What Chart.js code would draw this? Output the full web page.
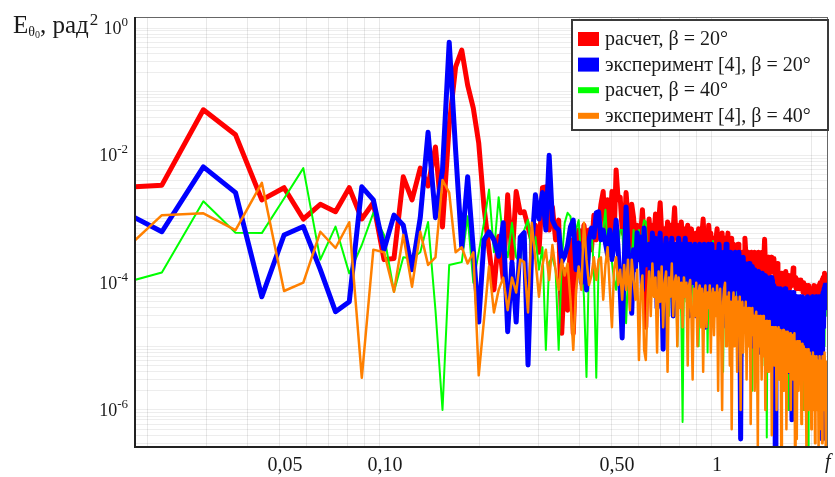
<!DOCTYPE html>
<html>
<head>
<meta charset="utf-8">
<script src="https://cdn.jsdelivr.net/npm/chart.js@4.4.0/dist/chart.umd.min.js"></script>
<style>
  html, body { margin: 0; padding: 0; background: #fff; }
  #wrap { width: 835px; height: 477px; }
</style>
</head>
<body>
<div id="wrap"><canvas id="spectrumChart" width="835" height="477"></canvas></div>
<script>
// spectrum bins: uniform step, first plotted bin is #2
var binWidth = 0.00735;
var firstBin = 2;

var seriesLabels = ['расчет, β = 20°', 'эксперимент [4], β = 20°', 'расчет, β = 40°', 'эксперимент [4], β = 40°'];

// RED - расчет, beta = 20
var red = [
  3.0e-3, 3.4e-3, 5.2e-2, 2.1e-2, 2.0e-3, 3.1e-3, 1.0e-3, 1.7e-3, 1.3e-3, 3.1e-3,
  1.0e-3, 1.8e-3, 2.3e-4, 2.4e-4, 4.6e-3, 2.0e-3, 6.3e-3, 3.3e-3, 1.35e-2, 7.5e-4,
  3.0e-2, 0.245, 0.45, 0.127, 0.055, 0.0155, 1.55e-3, 3.3e-4, 7.7e-5, 5.3e-4,
  1.1e-4, 2.4e-3, 2.3e-4, 2.7e-3, 1.25e-3, 1.3e-3, 7.5e-4, 4.7e-4, 8.0e-4, 3.0e-4,
  3.1e-3, 3.2e-3, 6.7e-4, 1.55e-3, 4.7e-4, 9.6e-4, 1.6e-5, 1.6e-4, 3.7e-5, 4.7e-4,
  1.6e-5, 2.7e-4, 6.7e-4, 2.3e-4, 8.0e-4, 3.9e-4, 6.7e-4, 3.3e-4, 1.15e-3, 4.7e-4,
  8.0e-4, 1.7e-3, 2.7e-3, 4.7e-4, 2.0e-3, 6.7e-4, 2.7e-3, 4.7e-4, 5.9e-3, 2.0e-3,
  2.2e-3, 6.7e-4, 5.6e-4, 2.6e-3, 1.05e-3, 3.3e-4, 1.7e-3, 1.05e-3, 3.9e-4, 8.0e-4,
  3.3e-4, 5.6e-4, 1.4e-3, 4.7e-4, 2.0e-5, 6.7e-4, 1.0e-3, 3.0e-4, 8.0e-4, 5.0e-4,
  1.2e-3, 2.0e-4, 9.0e-4, 1.8e-3, 6.0e-4, 3.0e-5, 7.0e-4, 4.0e-4, 9.0e-4, 6.0e-4,
  8.0e-4, 2.0e-4, 7.0e-4, 1.5e-3, 5.0e-4, 8.0e-4, 3.0e-4, 6.0e-4, 9.0e-4, 4.0e-4,
  7.0e-4, 1.0e-4, 6.0e-4, 8.0e-4, 3.0e-4, 5.0e-4, 7.0e-4, 4.0e-4, 5e-4, 2e-4,
  6e-4, 4e-4, 7e-4, 3e-4, 5e-4, 6e-4, 1.0e-3, 4e-4, 2e-4, 5e-4,
  3e-4, 8e-4, 5e-4, 6e-4, 1e-4, 4e-4, 5e-4, 3e-4, 5e-4, 7e-4,
  4e-4, 2e-4, 5e-4, 3e-4, 6e-4, 4e-5, 4e-4, 5e-4, 3e-4, 4e-4,
  6e-4, 2e-4, 4e-4, 3e-4, 5e-4, 2e-4, 4e-4, 3e-4, 3e-4, 2e-4,
  1e-4, 4e-4, 2.5e-4, 3e-4, 1.5e-4, 2e-4, 3e-4, 2e-4, 2.5e-4, 5e-4,
  3e-4, 1.5e-4, 2.5e-4, 3e-4, 2e-4, 1e-4, 2.5e-4, 3e-4, 2e-4, 2.5e-4,
  1.5e-4, 3e-4, 2e-4, 2.5e-4, 1e-4, 2e-4, 3e-4, 2e-4, 1.5e-4, 2.5e-4,
  2e-4, 3e-4, 1.5e-4, 2.5e-4, 4.8e-4, 2e-4, 2.5e-4, 1.5e-4, 2e-4, 2.5e-4,
  1e-4, 2e-4, 1.5e-4, 2.5e-4, 2e-4, 1.5e-4, 2e-4, 2.4e-4, 1.5e-4, 1.2e-4,
  1.4e-4, 8e-5, 2.0e-4, 1.2e-4, 1.0e-4, 1.3e-4, 9e-5, 1.2e-4, 1.4e-4, 1.0e-4,
  1.2e-4, 7e-5, 1.1e-4, 1.3e-4, 1.0e-4, 1.5e-4, 1.1e-4, 9e-5, 1.2e-4, 1.0e-4,
  1.3e-4, 8e-5, 1.1e-4, 1.2e-4, 9e-5, 1.1e-4, 1.3e-4, 1.7e-4, 1.1e-4, 9e-5,
  1.2e-4, 1.0e-4, 8e-5, 1.1e-4, 1.0e-4, 9e-5, 1.1e-4, 8e-5, 1.0e-4, 9e-5,
  1.1e-4, 8e-5, 1.0e-4, 9e-5, 7e-5, 1.0e-4, 8e-5, 9e-5, 8e-5, 7e-5,
  9e-5, 6e-5, 7e-5, 9e-5, 7e-5, 6e-5, 8e-5, 7e-5, 6e-5, 8e-5,
  7e-5, 6e-5, 8e-5, 7e-5, 9e-5, 6e-5, 7e-5, 8e-5, 6e-5, 7e-5,
  8e-5, 6e-5, 7e-5, 9e-5, 7e-5, 8e-5, 1.0e-4, 7e-5, 9e-5, 8e-5,
  1.1e-4, 9e-5, 1.2e-4, 8e-5, 1.0e-4, 1.4e-4, 1.0e-4, 1.2e-4, 1.3e-4
];

// BLUE - эксперимент, beta = 20
var blue = [
  1.9e-3, 6.3e-4, 6.6e-3, 2.6e-3, 6.0e-5, 5.6e-4, 7.6e-4, 1.6e-4, 3.5e-5, 5.0e-5,
  3.2e-3, 2.0e-3, 3.3e-4, 1.15e-3, 8.0e-4, 1.6e-4, 1.05e-3, 2.3e-2, 1.05e-3, 5.9e-3,
  0.60, 1.2e-2, 3.6e-4, 4.6e-3, 3.3e-4, 2.4e-5, 4.7e-4, 6.3e-4, 4.7e-4, 2.6e-4,
  8.7e-4, 1.7e-5, 2.1e-4, 2.4e-5, 5.2e-4, 6.1e-4, 5.1e-6, 3.6e-4, 2.4e-3, 1.0e-3,
  2.6e-3, 6.7e-4, 1.0e-2, 9.6e-4, 7.5e-4, 6.7e-4, 2.1e-4, 2.6e-4, 3.9e-4, 7.5e-4,
  9.6e-4, 1.6e-4, 4.2e-4, 1.0e-4, 3.3e-4, 7.7e-5, 4.7e-4, 7.2e-4, 5.2e-4, 1.25e-3,
  1.3e-3, 4.7e-4, 6.7e-4, 4.2e-4, 2.7e-4, 6.7e-4, 2.3e-4, 3.9e-4, 9.6e-4, 3.3e-4,
  7.7e-5, 1.35e-5, 1.9e-4, 1.55e-3, 3.9e-4, 1.1e-4, 3.3e-5, 3.3e-4, 1.6e-4, 6.1e-4,
  2.3e-4, 5.2e-4, 7.7e-5, 7.2e-4, 1.9e-4, 3.9e-4, 4e-4, 8e-5, 6e-4, 2e-4,
  5e-4, 4e-5, 3e-4, 6e-4, 1e-4, 9e-6, 3e-4, 5e-4, 6e-5, 4e-4,
  2e-4, 5e-4, 3e-5, 3e-4, 4e-4, 1e-4, 5e-4, 2e-4, 4e-4, 6e-5,
  3e-4, 5e-4, 1.5e-4, 4e-4, 3e-5, 4e-4, 2e-4, 3e-4, 1e-4, 4e-4,
  3e-5, 3e-4, 2e-4, 4e-4, 6e-5, 3e-4, 1.5e-4, 4e-4, 2e-5, 3e-4,
  1e-4, 4e-4, 5e-5, 2e-4, 4e-4, 8e-5, 3e-4, 1.5e-4, 3e-4, 4e-5,
  2e-4, 4e-4, 1e-4, 3e-4, 2e-5, 2e-4, 3e-4, 6e-5, 4e-4, 1.5e-4,
  3e-4, 5e-5, 2e-4, 3e-4, 1e-4, 2.5e-4, 3e-5, 2e-4, 3e-4, 8e-5,
  2e-4, 1.5e-4, 3e-4, 4e-5, 3.5e-7, 2e-4, 1e-4, 2.5e-4, 5e-5, 2e-4,
  1.2e-4, 2e-5, 1.8e-4, 1e-4, 2e-4, 3e-5, 1.5e-4, 8e-5, 1.8e-4, 1e-5,
  1.2e-4, 1.6e-4, 5e-5, 1.4e-4, 2e-5, 1.2e-4, 1.5e-4, 6e-5, 1.3e-4, 8e-6,
  1e-4, 1.4e-4, 4e-5, 1.2e-4, 7e-5, 1.3e-4, 2e-5, 1e-4, 1.2e-4, 5e-5,
  1.1e-4, 1.5e-5, 9e-5, 1.2e-4, 4e-5, 1.1e-4, 6e-6, 9e-5, 8e-5, 2.6e-7,
  7e-5, 3e-5, 8e-5, 1e-5, 6e-5, 7e-5, 2e-5, 8e-5, 5e-6, 6e-5,
  4e-5, 7e-5, 1.5e-5, 6e-5, 8e-5, 3e-5, 6e-5, 4e-6, 7e-5, 5e-5,
  2e-5, 6e-5, 7e-5, 1e-5, 6e-5, 7e-7, 5e-5, 7e-5, 3e-5, 6e-5,
  8e-6, 5e-5, 6e-5, 2e-5, 5e-5, 6e-5, 4e-6, 5e-5, 4e-5, 6e-5,
  1.2e-5, 5e-5, 3e-5, 6e-5, 5e-6, 5e-5, 4e-5, 2e-5, 5e-5, 1e-5,
  5e-5, 3e-5, 6e-5, 4e-6, 5e-5, 2e-5, 5e-5, 4e-5, 8e-6, 5e-5,
  3e-5, 6e-5, 1e-5, 5e-5, 4e-5, 3e-6, 5e-5, 2e-5, 6e-5, 4e-5,
  7e-6, 5e-5, 3e-5, 6e-5, 1.5e-5, 5e-5, 6e-5, 5e-6, 6e-5, 3e-5,
  3.5e-7, 6e-5, 7e-5, 2e-5, 8e-5, 6e-5, 9e-5, 4e-5, 1e-4
];

// GREEN - расчет, beta = 40
var green = [
  8.1e-5, 1.44e-4, 1.9e-3, 6.1e-4, 6.0e-4, 2.1e-3, 6.3e-3, 2.3e-4, 7.6e-4, 1.4e-4,
  3.9e-4, 1.25e-3, 5.6e-4, 7.2e-5, 2.5e-4, 2.4e-4, 3.0e-4, 9.0e-4, 3.7e-5, 1.0e-6,
  1.9e-4, 2.0e-4, 2.1e-4, 1.1e-3, 1.0e-4, 3.0e-4, 8.7e-4, 2.9e-3, 3.0e-4, 2.2e-3,
  4.7e-4, 2.5e-4, 8.7e-4, 2.5e-4, 2.1e-4, 6.7e-4, 9.6e-4, 2.5e-4, 5.2e-4, 1.6e-4,
  3.6e-4, 8.8e-6, 2.1e-4, 2.5e-4, 1.6e-4, 8.8e-6, 2.1e-4, 8.7e-4, 1.25e-3, 1.1e-3,
  4.7e-4, 6.7e-4, 9.6e-4, 2.1e-4, 6.0e-5, 3.3e-6, 2.1e-4, 6.7e-4, 1.6e-4, 3.2e-6,
  2.1e-4, 6.7e-4, 6.7e-4, 1.4e-3, 3.3e-4, 4.7e-4, 2.1e-4, 1.1e-4, 7.7e-5, 3.6e-4,
  6.7e-4, 6.7e-4, 2.1e-4, 2.3e-5, 1.1e-4, 3.6e-4, 2.1e-4, 6.7e-4, 2.5e-4, 4.7e-4,
  6.7e-4, 1.6e-4, 6.7e-4, 9.6e-4, 9.0e-4, 2.3e-4, 3e-4, 1e-4, 4e-4, 6e-5,
  2e-4, 3e-4, 5e-5, 2e-4, 1e-4, 3e-4, 4e-4, 8e-5, 2e-4, 3e-5,
  2e-4, 1.5e-4, 3e-4, 6e-5, 2e-4, 1e-5, 2e-4, 1.2e-4, 3e-5, 6.5e-7,
  1e-4, 2e-4, 5e-5, 2e-4, 1e-4, 3e-4, 4e-5, 2e-4, 1e-4, 2e-4,
  5e-5, 1.5e-4, 1e-5, 2e-4, 1e-4, 3e-5, 2e-4, 1.5e-4, 6e-5, 2e-4,
  8e-6, 1.5e-4, 2e-4, 7e-5, 1.5e-4, 4.5e-4, 1e-4, 4e-5, 1.5e-4, 2e-4,
  2e-5, 1.2e-4, 1.5e-4, 5e-5, 1.2e-4, 4e-6, 1e-4, 1.5e-4, 6e-5, 1.2e-4,
  2e-5, 1e-4, 1.3e-4, 4e-5, 1e-4, 8e-5, 1.2e-4, 1.5e-5, 1.6e-4, 8e-5,
  1e-4, 3e-5, 9e-5, 1.2e-4, 4e-5, 1e-4, 7e-6, 8e-5, 1e-4, 3e-5,
  9e-5, 6e-5, 1e-4, 1.5e-5, 8e-5, 9e-5, 3e-5, 8e-5, 2e-6, 7e-5,
  5e-5, 8e-5, 2e-5, 7e-5, 6e-5, 8e-5, 1e-5, 6e-5, 7e-5, 3e-5,
  6e-5, 5e-6, 6e-5, 7e-5, 2e-5, 6e-5, 5e-5, 3.7e-7, 5e-5, 6e-5,
  2e-5, 5e-5, 1e-5, 5e-5, 4e-5, 6e-5, 1.5e-5, 5e-5, 4e-5, 5e-5,
  8e-6, 4e-5, 5e-5, 2e-5, 4e-5, 3e-6, 4e-5, 5e-5, 2e-5, 4e-5,
  3e-5, 5e-5, 6e-6, 4e-5, 3e-5, 4e-5, 1e-5, 4e-5, 3e-5, 1e-6,
  3e-5, 4e-5, 1.5e-5, 3e-5, 4e-5, 5e-6, 3e-5, 2e-5, 4e-5, 1e-5,
  3e-5, 3e-5, 2e-6, 3e-5, 2e-5, 3e-5, 8e-6, 3e-5, 2e-5, 3e-5,
  5e-6, 2.5e-5, 3e-5, 1e-5, 2.5e-5, 1e-6, 2e-5, 3e-5, 1e-5, 2.5e-5,
  2e-5, 4e-6, 2.5e-5, 2.5e-7, 2e-5, 3e-5, 8e-6, 2.5e-5, 2e-5, 3e-6,
  2e-5, 3e-5, 1e-5, 2e-5, 2.5e-5, 5e-6, 2e-5, 1.5e-5, 3e-5, 2e-6,
  2e-5, 3e-5, 1e-5, 4e-5, 2e-5, 6e-6, 3e-5, 2e-5, 1e-6, 3e-5,
  2e-5, 4e-5, 8e-6, 3e-5, 4e-5, 1e-5, 5e-5, 3e-5, 4e-5
];

// ORANGE - эксперимент, beta = 40
var orange = [
  1.6e-4, 1.15e-3, 1.23e-3, 6.7e-4, 3.7e-3, 7.4e-5, 1.0e-4, 6.3e-4, 3.5e-4, 8.9e-4,
  3.2e-6, 3.3e-4, 3.0e-4, 7.2e-5, 5.6e-4, 8.6e-5, 6.3e-4, 1.9e-4, 2.5e-4, 4.1e-3,
  2.6e-3, 3.0e-4, 3.6e-4, 2.0e-4, 3.0e-4, 3.5e-6, 2.6e-5, 1.8e-4, 3.4e-5, 7.7e-5,
  1.2e-4, 3.7e-5, 1.2e-4, 7.0e-5, 2.3e-4, 2.1e-4, 3.4e-5, 8.7e-4, 2.3e-4, 6.0e-5,
  1.9e-4, 3.3e-4, 1.1e-4, 3.9e-4, 1.6e-4, 7.7e-5, 2.3e-4, 1.3e-4, 2.0e-4, 5.4e-5,
  8.8e-6, 7.7e-5, 1.8e-4, 7.7e-5, 8.7e-4, 2.3e-4, 9.2e-5, 1.3e-4, 2.5e-4, 1.1e-4,
  2.3e-4, 2.5e-4, 5.4e-5, 1.9e-4, 3.6e-4, 7.7e-5, 2.0e-5, 1.6e-4, 2.5e-4, 9.2e-5,
  1.6e-4, 5.4e-5, 1.9e-4, 7.7e-5, 2.3e-4, 3.7e-5, 2.3e-4, 1.1e-4, 5.4e-5, 1.6e-4,
  6.1e-6, 7.7e-5, 1.3e-4, 8.8e-6, 6.1e-6, 5.4e-5, 1.5e-4, 3e-5, 2e-4, 6e-5,
  1.2e-4, 8e-6, 1.5e-4, 5e-5, 1.8e-4, 2e-5, 1e-4, 1.5e-4, 4e-6, 1.2e-4,
  6e-5, 2e-4, 3e-5, 1e-4, 1.3e-4, 1e-5, 1.2e-4, 4e-5, 1e-4, 2e-5,
  1.2e-4, 6e-5, 1e-4, 5e-6, 9e-5, 1.1e-4, 3e-5, 3e-6, 8e-5, 3e-5,
  1e-4, 1e-5, 7e-5, 9e-5, 2e-5, 8e-5, 4e-6, 6e-5, 9e-5, 2e-5,
  7e-5, 4e-5, 9e-5, 8e-6, 6e-5, 8e-5, 1.5e-5, 7e-5, 3e-5, 9e-5,
  2e-6, 6e-5, 8e-5, 2e-5, 1e-6, 5e-5, 8e-5, 1e-4, 1e-5, 6e-5,
  3e-5, 7e-5, 5e-6, 5e-5, 5e-7, 4e-5, 7e-5, 1e-5, 5e-5, 6e-5,
  4e-6, 5e-5, 2e-5, 6e-5, 1e-6, 4e-5, 5e-5, 8e-6, 4e-5, 2e-5,
  5e-5, 3e-6, 3e-5, 4e-5, 1e-5, 4e-5, 6e-7, 3e-5, 4e-5, 1.5e-5,
  3e-5, 2e-6, 3e-5, 3.5e-5, 8e-6, 2.5e-7, 3e-5, 1e-5, 3e-5, 2e-5,
  3e-6, 2.5e-5, 3e-5, 7e-6, 2.5e-5, 1e-6, 2.5e-5, 1.5e-5, 2.5e-5, 4e-6,
  2e-5, 2.5e-5, 6e-6, 2e-5, 4e-7, 2e-5, 1.2e-5, 2e-5, 5e-6, 2e-5,
  1.5e-5, 1e-6, 1.8e-5, 8e-6, 2e-5, 3e-6, 1.5e-5, 1.8e-5, 2e-7, 1.5e-5,
  1e-5, 1.8e-5, 2e-6, 1.5e-5, 6e-6, 1.7e-5, 5e-7, 1.4e-5, 1.7e-5, 4e-6,
  1.5e-5, 1e-5, 1.6e-5, 1e-6, 1.4e-5, 8e-6, 1.5e-5, 3e-6, 1.3e-5, 1.6e-5,
  2e-7, 1.2e-5, 6e-6, 3.5e-7, 1.2e-5, 1e-5, 2e-6, 1.2e-5, 1e-5, 5e-6,
  1.1e-5, 6e-7, 1e-5, 1.1e-5, 3e-6, 1e-5, 8e-6, 1e-6, 9e-6, 2e-6,
  2e-7, 8e-6, 4e-6, 9e-6, 1e-6, 7e-6, 8e-6, 2e-6, 7e-6, 5e-7,
  7e-6, 4e-6, 8e-6, 1e-6, 6e-6, 7e-6, 3e-7, 6e-6, 3e-6, 7e-6,
  1e-6, 6e-6, 5e-6, 2e-7, 6e-6, 7e-6, 2e-6, 6e-6, 5e-7, 6e-6,
  3e-7, 7e-6, 4e-6, 7e-6, 1e-6, 8e-6, 5e-6, 2e-7, 6e-6
];

// axis range and labels
var xMin = 0.0183, xMax = 2.236;
var yMin = 2.62e-7, yMax = 1.49;
var xTickValues = [0.05, 0.1, 0.5, 1];
var xTickLabels = ['0,05', '0,10', '0,50', '1'];
var yTickValues = [1, 1e-2, 1e-4, 1e-6];
var yTickExps = ['0', '-2', '-4', '-6'];

// grid lines (1..9 in every decade), only inside the axis range
var xGrid = [];
var yGrid = [];
for (var e = -2; e <= 0; e++) {
  for (var m = 1; m <= 9; m++) xGrid.push(m * Math.pow(10, e));
}
for (var e2 = -7; e2 <= -1; e2++) {
  for (var m2 = 1; m2 <= 9; m2++) yGrid.push(m2 * Math.pow(10, e2));
}
yGrid.push(1);
xGrid = xGrid.filter(function (v) { return v > xMin && v < xMax; });
yGrid = yGrid.filter(function (v) { return v > yMin && v < yMax; });

function toPoints(vals) {
  return vals.map(function (v, i) { return { x: (firstBin + i) * binWidth, y: v }; });
}

var SERIF = '"Liberation Serif", "DejaVu Serif", serif';

// axis texts, frame and boxed legend
var decorations = {
  id: 'decorations',
  afterDraw: function (chart) {
    var ctx = chart.ctx;
    var a = chart.chartArea;
    var xs = chart.scales.x, ys = chart.scales.y;
    ctx.save();

    // frame
    ctx.strokeStyle = '#666';
    ctx.lineWidth = 1;
    ctx.strokeRect(a.left + 0.5, a.top + 0.5, a.right - a.left - 1, a.bottom - a.top - 1);
    ctx.strokeStyle = '#222';
    ctx.lineWidth = 2;
    ctx.beginPath();
    ctx.moveTo(a.left, a.top);
    ctx.lineTo(a.left, a.bottom);
    ctx.lineTo(a.right, a.bottom);
    ctx.stroke();

    ctx.fillStyle = '#1a1a1a';
    ctx.textBaseline = 'alphabetic';

    // x tick labels
    ctx.font = '20px ' + SERIF;
    ctx.textAlign = 'center';
    xTickValues.forEach(function (v, i) {
      ctx.fillText(xTickLabels[i], xs.getPixelForValue(v) + 5, 471);
    });
    ctx.font = 'italic 20px ' + SERIF;
    ctx.textAlign = 'left';
    ctx.fillText('f', 825, 468);

    // y tick labels 10^n
    ctx.textAlign = 'right';
    yTickValues.forEach(function (v, i) {
      var py = ys.getPixelForValue(v);
      ctx.font = '13px ' + SERIF;
      ctx.fillText(yTickExps[i], 128, py - 2);
      var w = ctx.measureText(yTickExps[i]).width;
      ctx.font = '18px ' + SERIF;
      ctx.fillText('10', 128 - w, py + 6);
    });

    // y axis title: E_theta0, рад^2
    ctx.textAlign = 'left';
    var x = 13;
    ctx.font = '25px ' + SERIF;
    ctx.fillText('E', x, 33);
    x += ctx.measureText('E').width;
    ctx.font = '14px ' + SERIF;
    ctx.fillText('θ', x, 36);
    x += ctx.measureText('θ').width;
    ctx.font = '10px ' + SERIF;
    ctx.fillText('0', x, 38);
    x += ctx.measureText('0').width;
    ctx.font = '25px ' + SERIF;
    ctx.fillText(', рад', x, 33);
    x += ctx.measureText(', рад').width;
    ctx.font = '17px ' + SERIF;
    ctx.fillText('2', x + 1, 25);

    // legend box
    var lx = 572, ly = 20, lw = 256, lh = 110;
    ctx.fillStyle = '#fff';
    ctx.fillRect(lx, ly, lw, lh);
    ctx.strokeStyle = '#3a3a3a';
    ctx.lineWidth = 2;
    ctx.strokeRect(lx, ly, lw, lh);
    ctx.font = '20px ' + SERIF;
    chart.data.datasets.forEach(function (ds, i) {
      var cy = 39 + i * 25.6;
      var mh = ds.borderWidth >= 4 ? 14 : 6;
      ctx.fillStyle = ds.borderColor;
      ctx.fillRect(578, cy - mh / 2, 21, mh);
      ctx.fillStyle = '#1a1a1a';
      ctx.fillText(ds.label, 605, cy + 6);
    });

    ctx.restore();
  }
};

var ctx = document.getElementById('spectrumChart').getContext('2d');
var chart = new Chart(ctx, {
  type: 'line',
  data: {
    datasets: [{
      label: seriesLabels[0],
      data: toPoints(red),
      borderColor: '#ff0000',
      borderWidth: 5,
      order: 4,
      clip: 0
    }, {
      label: seriesLabels[1],
      data: toPoints(blue),
      borderColor: '#0000ff',
      borderWidth: 5,
      order: 2,
      clip: 0
    }, {
      label: seriesLabels[2],
      data: toPoints(green),
      borderColor: '#00ff00',
      borderWidth: 2,
      order: 3,
      clip: 0
    }, {
      label: seriesLabels[3],
      data: toPoints(orange),
      borderColor: '#ff8000',
      borderWidth: 2.5,
      order: 1,
      clip: 0
    }]
  },
  options: {
    responsive: false,
    animation: false,
    devicePixelRatio: 1,
    layout: { padding: { left: 135, right: 7, top: 17, bottom: 30 } },
    elements: {
      point: { radius: 0 },
      line: { tension: 0, borderJoinStyle: 'round', fill: false }
    },
    plugins: {
      legend: { display: false },
      tooltip: { enabled: false }
    },
    scales: {
      x: {
        type: 'logarithmic',
        min: xMin,
        max: xMax,
        bounds: 'data',
        ticks: { display: false },
        border: { display: false },
        grid: { color: 'rgba(0,0,0,0.09)', lineWidth: 1, drawTicks: false },
        afterBuildTicks: function (s) { s.ticks = xGrid.map(function (v) { return { value: v }; }); },
        afterFit: function (s) { s.height = 0; }
      },
      y: {
        type: 'logarithmic',
        min: yMin,
        max: yMax,
        bounds: 'data',
        ticks: { display: false },
        border: { display: false },
        grid: { color: 'rgba(0,0,0,0.07)', lineWidth: 1, drawTicks: false },
        afterBuildTicks: function (s) { s.ticks = yGrid.map(function (v) { return { value: v }; }); },
        afterFit: function (s) { s.width = 0; }
      }
    }
  },
  plugins: [decorations]
});
</script>
</body>
</html>
